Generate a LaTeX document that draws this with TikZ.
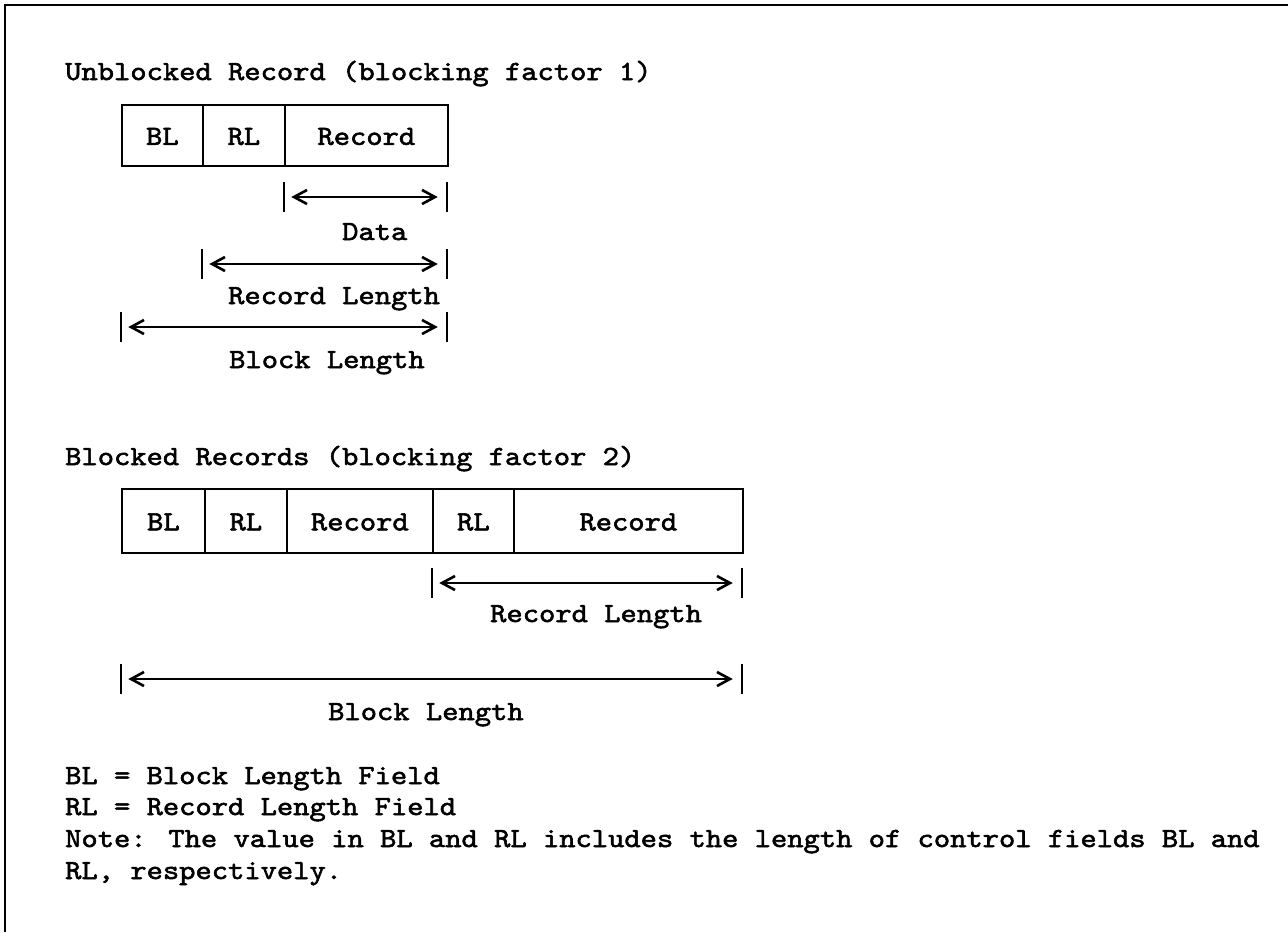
\documentclass[tikz,border=0pt]{standalone}
\usepackage{fontspec}
\newfontfamily\tw{lmmono10-regular.otf}[FakeStretch=1.12,FakeBold=2]
\usetikzlibrary{calc}
\tikzset{
  border/.style={line width=2.2pt},
  cell/.style={draw, line width=1.7pt, anchor=north west, inner sep=0pt,
    text height=19pt, text depth=0pt},
  txt/.style={anchor=base west, inner sep=0pt},
  dimbar/.style={line width=1.9pt},
  dimln/.style={line width=1.6pt},
  chev/.style={line width=2.6pt, line join=miter, line cap=butt},
}
\newcommand\dimline[2]{%
  \draw[dimbar] ($(#1)+(0,-15)$) -- ($(#1)+(0,15)$);
  \draw[dimbar] ($(#2)+(0,-15)$) -- ($(#2)+(0,15)$);
  \draw[dimln] ($(#1)+(10,0)$) -- ($(#2)+(-12,0)$);
  \draw[chev] ($(#1)+(23,-7)$) -- ($(#1)+(10,0)$) -- ($(#1)+(23,7)$);
  \draw[chev] ($(#2)+(-25,-7)$) -- ($(#2)+(-12,0)$) -- ($(#2)+(-25,7)$);
}
\begin{document}
\begin{tikzpicture}[x=1pt, y=-1pt, font=\tw\fontsize{27.7}{32}\selectfont]
\useasboundingbox (0,0) rectangle (1288,932);
\draw[border] (5,932) -- (5,5) -- (1288,5);

% Unblocked record
\node[txt] (t1) at (65,80) {Unblocked Record (blocking factor 1)};
\node[cell, minimum width=81pt, minimum height=61pt] (a1) at (121,104) {BL};
\node[cell, minimum width=82pt, minimum height=61pt] (a2) at (202,104) {RL};
\node[cell, minimum width=163pt, minimum height=61pt] (a3) at (284,104) {Record};

\coordinate (da1) at (284,197);
\coordinate (da2) at (447,197);
\dimline{da1}{da2}
\node[txt] (ldata) at (342,240) {Data};

\coordinate (ra1) at (202,264);
\coordinate (ra2) at (447,264);
\dimline{ra1}{ra2}
\node[txt] (lrl1) at (228,304) {Record Length};

\coordinate (ba1) at (121,327);
\coordinate (ba2) at (447,327);
\dimline{ba1}{ba2}
\node[txt] (lbl1) at (229,368) {Block Length};

% Blocked records
\node[txt] (t2) at (65,465) {Blocked Records (blocking factor 2)};
\node[cell, minimum width=83pt, minimum height=64pt] (b1) at (121,488) {BL};
\node[cell, minimum width=82pt, minimum height=64pt] (b2) at (204,488) {RL};
\node[cell, minimum width=146pt, minimum height=64pt] (b3) at (286,488) {Record};
\node[cell, minimum width=81pt, minimum height=64pt] (b4) at (432,488) {RL};
\node[cell, minimum width=229pt, minimum height=64pt] (b5) at (513,488) {Record};

\coordinate (rb1) at (432,583);
\coordinate (rb2) at (742,583);
\dimline{rb1}{rb2}
\node[txt] (lrl2) at (490,622) {Record Length};

\coordinate (bb1) at (121,679);
\coordinate (bb2) at (742,679);
\dimline{bb1}{bb2}
\node[txt] (lbl2) at (328,720) {Block Length};

% Legend
\node[txt] (n1) at (65,784) {BL = Block Length Field};
\node[txt] (n2) at (65,815) {RL = Record Length Field};
\node[txt] (n3) at (65,847) {Note: The value in BL and RL includes the length of control fields BL and};
\node[txt] (n4) at (65,879) {RL, respectively.};
\end{tikzpicture}
\end{document}
